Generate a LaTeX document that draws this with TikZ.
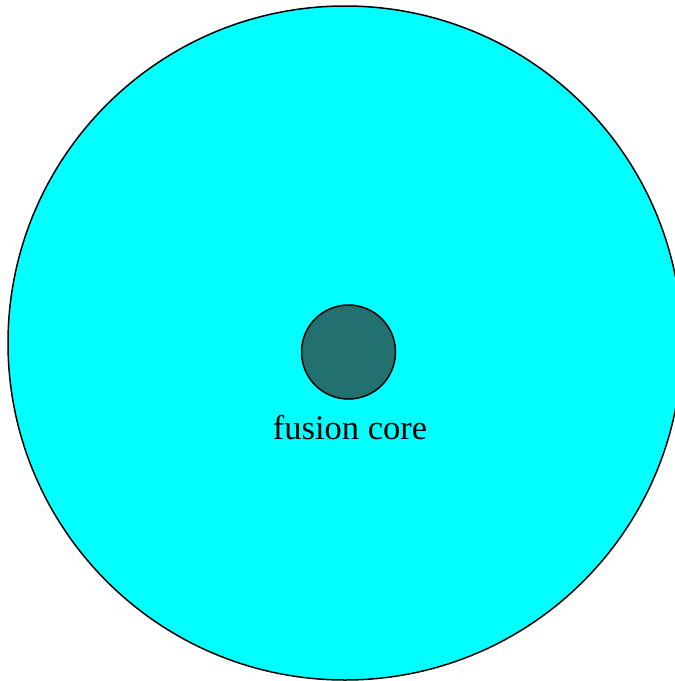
\documentclass[tikz,border=0pt]{standalone}
\usepackage{fontspec}
\setmainfont{Liberation Serif}
\definecolor{shell}{RGB}{0,255,255}
\definecolor{corefill}{RGB}{35,112,112}
\begin{document}
\begin{tikzpicture}[x=1pt,y=-1pt,
  outline/.style={draw=black,line width=1.5pt},
  label/.style={font=\fontsize{34.5}{40}\selectfont,anchor=base,inner sep=0pt}]
\useasboundingbox (0,0) rectangle (675,681);
\begin{scope}
\clip (0,0) rectangle (675,681);
\node[outline,fill=shell,circle,minimum size=674pt,inner sep=0pt] (star) at (345,343) {};
\end{scope}
\node[outline,fill=corefill,circle,minimum size=94pt,inner sep=0pt] (core) at (348.5,352) {};
\node[label] (lbl) at (350,439) {fusion core};
\end{tikzpicture}
\end{document}
